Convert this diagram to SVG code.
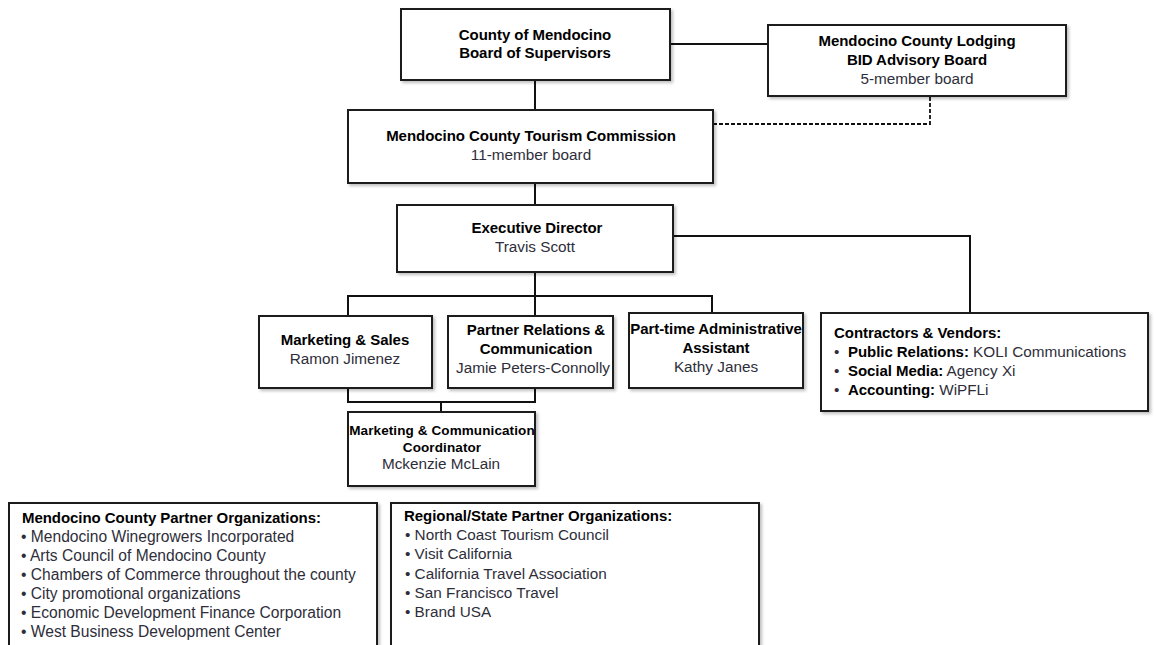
<svg xmlns="http://www.w3.org/2000/svg" width="1156" height="645" viewBox="0 0 1156 645">
<defs>
<filter id="sh" x="-5%" y="-5%" width="115%" height="120%">
<feDropShadow dx="2" dy="2" stdDeviation="1.5" flood-color="#000" flood-opacity="0.25"/>
</filter>
<style>
.box{fill:#fff;stroke:#1a1a1a;stroke-width:2;filter:url(#sh)}
.ln{fill:none;stroke:#111;stroke-width:2}
.dash{fill:none;stroke:#111;stroke-width:1.8;stroke-dasharray:4,2}
text{font-family:"Liberation Sans",Arial,sans-serif;}
.b{font-weight:bold;font-size:15px;fill:#000;letter-spacing:-0.05px}
.r{font-size:15.3px;fill:#2e2e3a}
.r2{font-size:15.6px;fill:#2e2e3a}
.c{text-anchor:middle}
.bs{font-weight:bold;font-size:13.5px;fill:#000;letter-spacing:0.1px}
</style>
</defs>
<rect width="1156" height="645" fill="#fff"/>
<g id="connectors">
<line class="ln" x1="670" y1="44" x2="768" y2="44"/>
<line class="ln" x1="535" y1="80" x2="535" y2="110"/>
<polyline class="dash" points="713,124 930,124 930,96"/>
<line class="ln" x1="535" y1="183" x2="535" y2="205"/>
<polyline class="ln" points="673,236 970,236 970,313"/>
<line class="ln" x1="535" y1="272" x2="535" y2="316"/>
<polyline class="ln" points="348,316 348,296 712,296 712,313"/>
<polyline class="ln" points="348,388 348,402 535,402 535,388"/>
<line class="ln" x1="441" y1="402" x2="441" y2="412"/>
</g>
<g id="board">
<rect class="box" x="401" y="9" width="269" height="71"/>
<text class="b c" x="535" y="40">County of Mendocino</text>
<text class="b c" x="535" y="58">Board of Supervisors</text>
</g>
<g id="lodging">
<rect class="box" x="768" y="25" width="298" height="71"/>
<text class="b c" x="917" y="46">Mendocino County Lodging</text>
<text class="b c" x="917" y="65">BID Advisory Board</text>
<text class="r c" x="917" y="84">5-member board</text>
</g>
<g id="commission">
<rect class="box" x="348" y="110" width="365" height="73"/>
<text class="b c" x="531" y="141">Mendocino County Tourism Commission</text>
<text class="r c" x="531" y="160">11-member board</text>
</g>
<g id="director">
<rect class="box" x="397" y="205" width="276" height="67"/>
<text class="b c" x="537" y="233">Executive Director</text>
<text class="r c" x="535" y="252">Travis Scott</text>
</g>
<g id="marketing">
<rect class="box" x="259" y="316" width="173" height="72"/>
<text class="b c" x="345" y="345">Marketing &amp; Sales</text>
<text class="r c" x="345" y="364">Ramon Jimenez</text>
</g>
<g id="partner">
<rect class="box" x="448" y="316" width="165" height="72"/>
<text class="b c" x="536" y="335">Partner Relations &amp;</text>
<text class="b c" x="536" y="354">Communication</text>
<text class="r c" x="533" y="373">Jamie Peters-Connolly</text>
</g>
<g id="admin">
<rect class="box" x="629" y="313" width="174" height="75"/>
<text class="b c" x="716" y="334">Part-time Administrative</text>
<text class="b c" x="716" y="353">Assistant</text>
<text class="r c" x="716" y="372">Kathy Janes</text>
</g>
<g id="coordinator">
<rect class="box" x="348" y="412" width="187" height="74"/>
<text class="bs c" x="442" y="435">Marketing &amp; Communication</text>
<text class="bs c" x="442" y="452">Coordinator</text>
<text class="r c" x="441" y="469">Mckenzie McLain</text>
</g>
<g id="contractors">
<rect class="box" x="821" y="313" width="327" height="98"/>
<text class="b" x="834" y="338">Contractors &amp; Vendors:</text>
<text class="r" x="834" y="357">•</text>
<text x="848" y="357"><tspan class="b">Public Relations:</tspan><tspan class="r"> KOLI Communications</tspan></text>
<text class="r" x="834" y="376">•</text>
<text x="848" y="376"><tspan class="b">Social Media:</tspan><tspan class="r"> Agency Xi</tspan></text>
<text class="r" x="834" y="395">•</text>
<text x="848" y="395"><tspan class="b">Accounting:</tspan><tspan class="r"> WiPFLi</tspan></text>
</g>
<g id="county-partners">
<rect class="box" x="9" y="503" width="368" height="160"/>
<text class="b" x="22" y="523">Mendocino County Partner Organizations:</text>
<text class="r2" x="21" y="542">• Mendocino Winegrowers Incorporated</text>
<text class="r2" x="21" y="561">• Arts Council of Mendocino County</text>
<text class="r2" x="21" y="580">• Chambers of Commerce throughout the county</text>
<text class="r2" x="21" y="599">• City promotional organizations</text>
<text class="r2" x="21" y="618">• Economic Development Finance Corporation</text>
<text class="r2" x="21" y="637">• West Business Development Center</text>
</g>
<g id="regional-partners">
<rect class="box" x="391" y="503" width="368" height="160"/>
<text class="b" x="404" y="521">Regional/State Partner Organizations:</text>
<text class="r" x="405" y="540">• North Coast Tourism Council</text>
<text class="r" x="405" y="559">• Visit California</text>
<text class="r" x="405" y="579">• California Travel Association</text>
<text class="r" x="405" y="598">• San Francisco Travel</text>
<text class="r" x="405" y="617">• Brand USA</text>
</g>
</svg>
